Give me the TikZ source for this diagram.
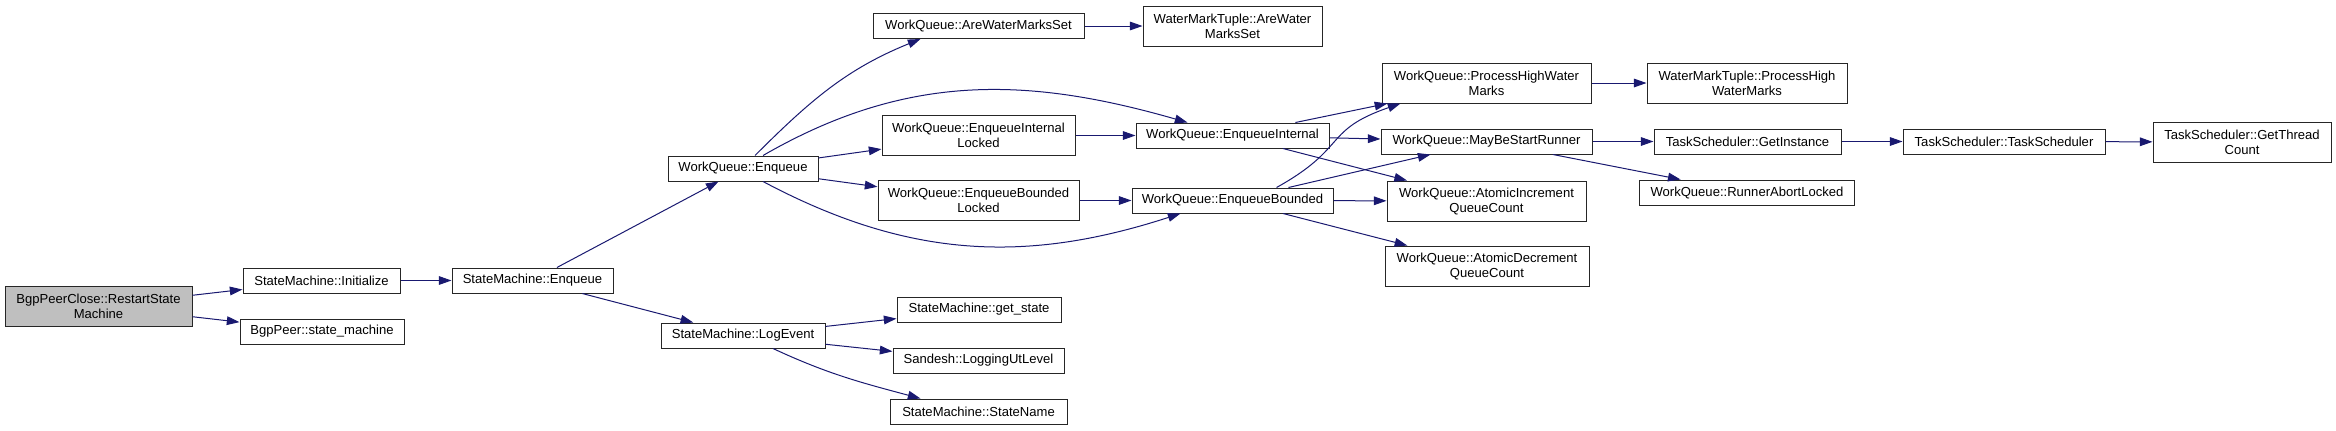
\documentclass[tikz,border=0pt]{standalone}
\usepackage{xcolor}
\usepackage{fontspec}
\setmainfont{Liberation Sans}
\usepackage{tikz}
\usetikzlibrary{arrows.meta,calc}

\definecolor{edgeblue}{HTML}{191970}
\definecolor{rootgray}{HTML}{BFBFBF}

\begin{document}
\begin{tikzpicture}[x=0.75pt,y=-0.75pt,
  fn/.style={draw=black!85, line width=0.75pt, fill=white, inner sep=0pt,
    minimum height=18.75pt, align=center, font=\fontsize{9.8pt}{11.25pt}\selectfont},
  fntall/.style={fn, minimum height=30pt},
  boxw/.style={minimum width=#1*0.75pt},
  call/.style={draw=edgeblue, line width=0.75pt, -{Triangle[length=9.5pt,width=6.5pt]}}]
  \useasboundingbox (0,0) rectangle (2336,430);

  % Caller (grey box)
  \node[fntall, boxw=187, fill=rootgray] (rsm) at (98.5,306) {BgpPeerClose::RestartState\\Machine};

  % StateMachine side
  \node[fn, boxw=157] (smInit) at (321.5,280.5) {StateMachine::Initialize};
  \node[fn, boxw=164] (bgpSM) at (322,331.5) {BgpPeer::state\_machine};
  \node[fn, boxw=161] (smEnq) at (532.5,280.5) {StateMachine::Enqueue};
  \node[fn, boxw=150] (wqEnq) at (743,168.5) {WorkQueue::Enqueue};
  \node[fn, boxw=164] (smLog) at (743,335.5) {StateMachine::LogEvent};
  \node[fn, boxw=164] (smGet) at (979,309.5) {StateMachine::get\_state};
  \node[fn, boxw=171] (sandesh) at (978.5,360.5) {Sandesh::LoggingUtLevel};
  \node[fn, boxw=177] (smName) at (978.5,411.5) {StateMachine::StateName};

  % WorkQueue calls
  \node[fn, boxw=211] (wqAWMS) at (978.5,26) {WorkQueue::AreWaterMarksSet};
  \node[fntall, boxw=179] (wmtAWMS) at (1232.5,26) {WaterMarkTuple::AreWater\\MarksSet};
  \node[fntall, boxw=193] (wqEIL) at (978.5,135.5) {WorkQueue::EnqueueInternal\\Locked};
  \node[fn, boxw=193] (wqEI) at (1232.5,135.5) {WorkQueue::EnqueueInternal};
  \node[fntall, boxw=201] (wqEBL) at (978.5,200.5) {WorkQueue::EnqueueBounded\\Locked};
  \node[fn, boxw=201] (wqEB) at (1232.5,200.5) {WorkQueue::EnqueueBounded};
  \node[fntall, boxw=209] (wqPHWM) at (1486.5,83) {WorkQueue::ProcessHighWater\\Marks};
  \node[fntall, boxw=200] (wmtPHWM) at (1747,83) {WaterMarkTuple::ProcessHigh\\WaterMarks};
  \node[fn, boxw=211] (wqMBSR) at (1486.5,141.5) {WorkQueue::MayBeStartRunner};
  \node[fntall, boxw=199] (wqAIQC) at (1486.5,201) {WorkQueue::AtomicIncrement\\QueueCount};
  \node[fntall, boxw=204] (wqADQC) at (1487,266) {WorkQueue::AtomicDecrement\\QueueCount};
  \node[fn, boxw=215] (wqRAL) at (1747,192.5) {WorkQueue::RunnerAbortLocked};

  % TaskScheduler chain
  \node[fn, boxw=187] (tsGI) at (1747.5,141.5) {TaskScheduler::GetInstance};
  \node[fn, boxw=202] (tsTS) at (2004,141.5) {TaskScheduler::TaskScheduler};
  \node[fntall, boxw=178] (tsGTC) at (2242,142) {TaskScheduler::GetThread\\Count};

  % straight calls
  \draw[call] (rsm) -- (smInit);
  \draw[call] (rsm) -- (bgpSM);
  \draw[call] (smInit) -- (smEnq);
  \draw[call] (smEnq) -- (wqEnq);
  \draw[call] (smEnq) -- (smLog);
  \draw[call] (smLog) -- (smGet);
  \draw[call] (smLog) -- (sandesh);
  \draw[call] (wqEnq) -- (wqEIL);
  \draw[call] (wqEnq) -- (wqEBL);
  \draw[call] (wqAWMS) -- (wmtAWMS);
  \draw[call] (wqEIL) -- (wqEI);
  \draw[call] (wqEBL) -- (wqEB);
  \draw[call] (wqEI) -- (wqPHWM);
  \draw[call] (wqEI) -- (wqMBSR);
  \draw[call] (wqEI) -- (wqAIQC);
  \draw[call] (wqEB) -- (wqMBSR);
  \draw[call] (wqEB) -- (wqAIQC);
  \draw[call] (wqEB) -- (wqADQC);
  \draw[call] (wqPHWM) -- (wmtPHWM);
  \draw[call] (wqMBSR) -- (tsGI);
  \draw[call] (wqMBSR) -- (wqRAL);
  \draw[call] (tsGI) -- (tsTS);
  \draw[call] (tsTS) -- (tsGTC);

  % curved calls
  \draw[call] ($(wqEnq.north)+(12,0)$) to[out=45,in=202] ($(wqAWMS.south)+(-58,0)$);
  \draw[call] ($(wqEnq.north)+(20,0)$) to[out=30,in=164] ($(wqEI.north)+(-45,0)$);
  \draw[call] ($(wqEnq.south)+(20,0)$) to[out=-28,in=198] ($(wqEB.south)+(-52,0)$);
  \draw[call] ($(smLog.south)+(30,0)$) to[out=-25,in=165] ($(smName.north)+(-58,0)$);
  \draw[call] ($(wqEB.north)+(44,0)$) to[out=29,in=199,looseness=1.4] ($(wqPHWM.south)+(-86,0)$);
\end{tikzpicture}
\end{document}
